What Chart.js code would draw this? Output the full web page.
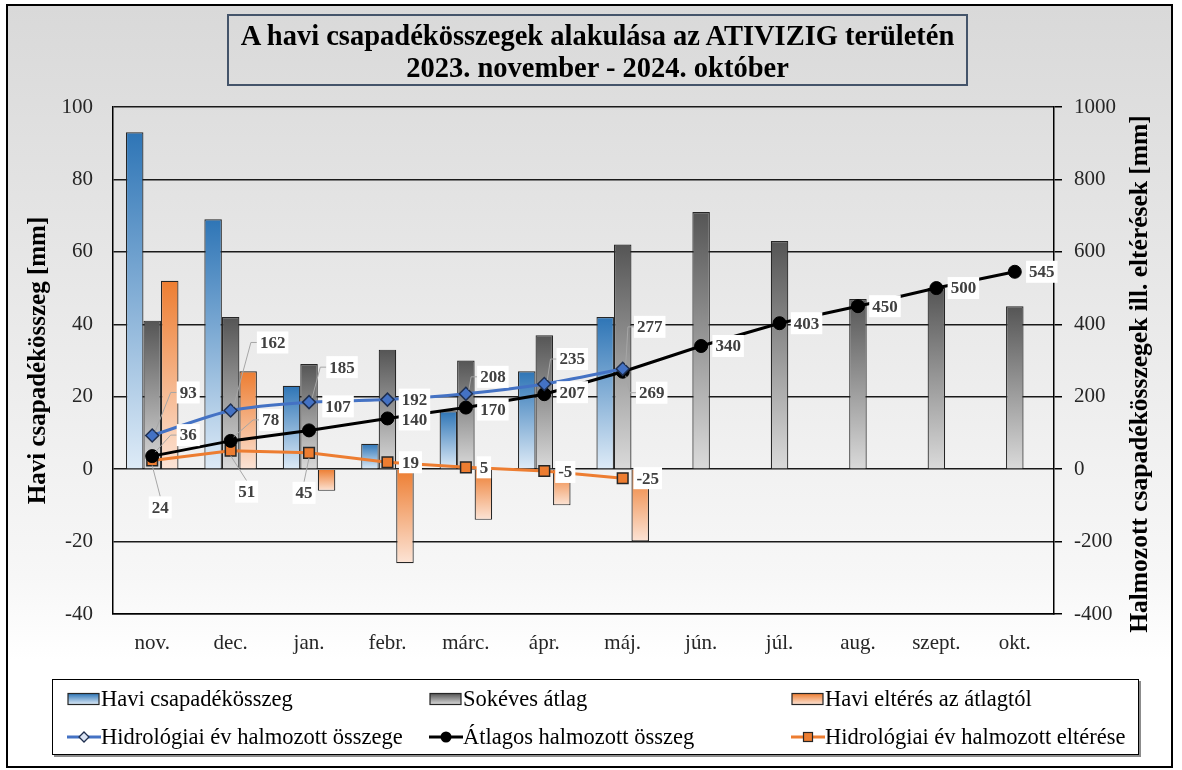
<!DOCTYPE html>
<html lang="hu">
<head>
<meta charset="utf-8">
<title>A havi csapadékösszegek alakulása az ATIVIZIG területén</title>
<script src="https://cdn.jsdelivr.net/npm/chart.js@4.4.1/dist/chart.umd.min.js"></script>
<style>
  html, body { margin: 0; padding: 0; }
  body {
    width: 1182px; height: 770px; position: relative; overflow: hidden;
    background: #fff; font-family: "Liberation Serif", "Times New Roman", serif;
  }
  #frame {
    position: absolute; left: 6px; top: 4px; width: 1167px; height: 764px;
    box-sizing: border-box; border: 2px solid #000;
    background: linear-gradient(to bottom, #d9d9d9 0%, #f7f7f7 75%, #ffffff 86%);
  }
  #chartBox { position: absolute; left: 0; top: 0; width: 1182px; height: 770px; }
  #title {
    position: absolute; left: 227px; top: 14px; width: 741px; height: 72px;
    box-sizing: border-box; border: 2px solid #44546a;
    text-align: center; font-weight: bold; font-size: 28.5px; line-height: 32px;
    padding-top: 4px; color: #000; white-space: nowrap;
  }
  #legend {
    position: absolute; left: 52px; top: 679px; width: 1087px; height: 76px;
    box-sizing: border-box; border: 1.5px solid #000; background: #fff;
    box-shadow: 2px 2px 0 #8c8c8c;
  }
  .item {
    position: absolute; display: flex; align-items: center;
    font-size: 22.5px; color: #000; white-space: nowrap; height: 26px;
  }
  .item svg { display: block; }
</style>
</head>
<body>
<div id="frame"></div>
<div id="chartBox"><canvas id="chart" width="1182" height="770"></canvas></div>
<div id="title">A havi csapadékösszegek alakulása az ATIVIZIG területén<br>2023. november - 2024. október</div>
<div id="legend"></div>
<script>
const months = ["nov.", "dec.", "jan.", "febr.", "márc.", "ápr.", "máj.", "jún.", "júl.", "aug.", "szept.", "okt."];

// havi értékek [mm] - bal tengely
const haviCsapadek = [93, 69, 23, 7, 16, 27, 42, null, null, null, null, null];
const sokevesAtlag = [41, 42, 29, 33, 30, 37, 62, 71, 63, 47, 50, 45];
const haviElteres = [52, 27, -6, -26, -14, -10, -20, null, null, null, null, null];

// halmozott értékek [mm] - jobb tengely
const hidroHalmozott = [93, 162, 185, 192, 208, 235, 277, null, null, null, null, null];
const atlagHalmozott = [36, 78, 107, 140, 170, 207, 269, 340, 403, 450, 500, 545];
const halmozottElteres = [24, 51, 45, 19, 5, -5, -25, null, null, null, null, null];

// címke eltolások a pontokhoz képest [dx, dy, vezetővonal]
const hidroLabelPos = [[36, -43, 1], [42, -68, 1], [33, -35, 1], [27, 0, 0], [27, -17, 1], [28, -25, 1], [27, -42, 1]];
const atlagLabelPos = [[36, -21, 1], [40, -21, 1], [29, -24, 0], [27, 1, 0], [27, 2, 0], [28, -2, 0], [29, 21, 1],
  [27, 0, 0], [27, 0, 0], [27, 0, 0], [27, 0, 0], [27, 0, 0]];
const elteresLabelPos = [[8, 47, 1], [16, 41, 1], [-5, 40, 1], [23, 0, 0], [18, 0, 0], [21, 1, 0], [25, 0, 0]];

const FONT = "'Liberation Serif', 'Times New Roman', serif";

function barGradient(top, bottom) {
  return (ctx) => {
    const chart = ctx.chart;
    if (!chart.chartArea || ctx.raw == null) return bottom;
    const y = chart.scales.y;
    const y1 = y.getPixelForValue(Math.max(ctx.raw, 0));
    const y2 = y.getPixelForValue(Math.min(ctx.raw, 0));
    if (Math.abs(y2 - y1) < 1) return top;
    const g = chart.ctx.createLinearGradient(0, y1, 0, y2);
    g.addColorStop(0, top);
    g.addColorStop(1, bottom);
    return g;
  };
}

const pointLabels = {
  id: "pointLabels",
  afterDatasetsDraw(chart) {
    const ctx = chart.ctx;
    const sets = [[3, hidroLabelPos], [4, atlagLabelPos], [5, elteresLabelPos]];
    ctx.save();
    ctx.font = "bold 17px " + FONT;
    ctx.textBaseline = "middle";
    ctx.textAlign = "center";
    sets.forEach(([di, pos]) => {
      const meta = chart.getDatasetMeta(di);
      const data = chart.data.datasets[di].data;
      meta.data.forEach((pt, i) => {
        if (data[i] == null || !pos[i]) return;
        const [dx, dy, lead] = pos[i];
        const txt = String(data[i]);
        const w = ctx.measureText(txt).width + 6;
        const h = 22;
        const cx = pt.x + dx, cy = pt.y + dy;
        if (lead) {
          ctx.strokeStyle = "#a6a6a6";
          ctx.lineWidth = 1;
          ctx.beginPath();
          if (dy > 25 && Math.abs(dx) < 20) {
            ctx.moveTo(pt.x, pt.y + 5);
            ctx.lineTo(cx, cy - h / 2);
          } else {
            const lx = cx - w / 2;
            ctx.moveTo(pt.x + 3, pt.y + (dy < 0 ? -4 : 4));
            ctx.lineTo(lx - 6, cy);
            ctx.lineTo(lx, cy);
          }
          ctx.stroke();
        }
        ctx.fillStyle = "#fff";
        ctx.fillRect(cx - w / 2, cy - h / 2, w, h);
        ctx.fillStyle = "#404040";
        ctx.fillText(txt, cx, cy + 1);
      });
    });
    ctx.restore();
  }
};

const rightTitle = {
  id: "rightTitle",
  afterDraw(chart) {
    const ctx = chart.ctx;
    ctx.save();
    ctx.translate(1140, 374);
    ctx.rotate(-Math.PI / 2);
    ctx.font = "bold 25.5px " + FONT;
    ctx.fillStyle = "#000";
    ctx.textAlign = "center";
    ctx.textBaseline = "middle";
    ctx.fillText("Halmozott csapadékösszegek ill. eltérések [mm]", 0, 0);
    ctx.restore();
  }
};

const chart = new Chart(document.getElementById("chart"), {
  data: {
    labels: months,
    datasets: [
      {
        type: "bar", label: "Havi csapadékösszeg", data: haviCsapadek, yAxisID: "y", order: 2,
        backgroundColor: barGradient("#2e75b6", "#deebf7"), borderColor: "#262626", borderWidth: 1.2,
        categoryPercentage: 0.67, barPercentage: 1
      },
      {
        type: "bar", label: "Sokéves átlag", data: sokevesAtlag, yAxisID: "y", order: 2,
        backgroundColor: barGradient("#555555", "#dadada"), borderColor: "#262626", borderWidth: 1.2,
        categoryPercentage: 0.67, barPercentage: 1
      },
      {
        type: "bar", label: "Havi eltérés az átlagtól", data: haviElteres, yAxisID: "y", order: 2,
        backgroundColor: barGradient("#ed7d31", "#fce4d6"), borderColor: "#262626", borderWidth: 1.2,
        categoryPercentage: 0.67, barPercentage: 1
      },
      {
        type: "line", label: "Hidrológiai év halmozott összege", data: hidroHalmozott, yAxisID: "y2", order: 0,
        borderColor: "#4472c4", borderWidth: 3, tension: 0.25,
        pointStyle: "rectRot", pointRadius: 6.5, pointBackgroundColor: "#4472c4",
        pointBorderColor: "#1f2f4f", pointBorderWidth: 1.5
      },
      {
        type: "line", label: "Átlagos halmozott összeg", data: atlagHalmozott, yAxisID: "y2", order: 1,
        borderColor: "#000", borderWidth: 3, tension: 0,
        pointStyle: "circle", pointRadius: 6.5, pointBackgroundColor: "#000",
        pointBorderColor: "#000", pointBorderWidth: 1
      },
      {
        type: "line", label: "Hidrológiai év halmozott eltérése", data: halmozottElteres, yAxisID: "y2", order: 1,
        borderColor: "#ed7d31", borderWidth: 3, tension: 0,
        pointStyle: "rect", pointRadius: 7.5, pointBackgroundColor: "#ed7d31",
        pointBorderColor: "#262626", pointBorderWidth: 1.5
      }
    ]
  },
  options: {
    responsive: false,
    animation: false,
    layout: { padding: { left: 20, right: 25, top: 107, bottom: 116 } },
    plugins: {
      legend: { display: false },
      title: { display: false },
      tooltip: { enabled: false }
    },
    scales: {
      x: {
        afterFit: (s) => { s.height = 40; },
        grid: { drawOnChartArea: false, drawTicks: false },
        border: { color: "#000", width: 1.5 },
        ticks: { color: "#262626", padding: 17, font: { family: FONT, size: 21 } }
      },
      y: {
        position: "left", min: -40, max: 100,
        afterFit: (s) => { s.width = 93; },
        grid: { color: "#1a1a1a", lineWidth: 1.5, drawTicks: false },
        border: { color: "#000", width: 1.5 },
        ticks: { stepSize: 20, color: "#262626", padding: 20, font: { family: FONT, size: 21 } },
        title: {
          display: true, text: "Havi csapadékösszeg [mm]", color: "#000",
          font: { family: FONT, size: 25, weight: "bold" }
        }
      },
      y2: {
        position: "right", min: -400, max: 1000,
        afterFit: (s) => { s.width = 103; },
        grid: { drawOnChartArea: false, drawTicks: true, tickLength: 8, color: "#000", lineWidth: 1.5 },
        border: { color: "#000", width: 1.5 },
        ticks: {
          stepSize: 200, color: "#262626", padding: 12, font: { family: FONT, size: 21 },
          callback: (v) => String(v)
        }
      }
    }
  },
  plugins: [pointLabels, rightTitle]
});

// jelmagyarázat a diagram adatsoraiból
const legendCols = [14, 376, 738];
const legendRows = [6, 44];
const barStops = [["#2e75b6", "#deebf7"], ["#555555", "#dadada"], ["#ed7d31", "#fce4d6"]];
const legendEl = document.getElementById("legend");
chart.data.datasets.forEach((ds, i) => {
  const item = document.createElement("div");
  item.className = "item";
  item.style.left = legendCols[i % 3] + "px";
  item.style.top = legendRows[Math.floor(i / 3)] + "px";
  let sym;
  if (ds.type === "bar") {
    const [a, b] = barStops[i];
    sym = `<svg width="34" height="14"><defs><linearGradient id="g${i}" x1="0" y1="0" x2="0" y2="1">
      <stop offset="0" stop-color="${a}"/><stop offset="1" stop-color="${b}"/></linearGradient></defs>
      <rect x="1" y="1.5" width="31" height="11" fill="url(#g${i})" stroke="#262626" stroke-width="1.2"/></svg>`;
  } else {
    let marker;
    if (ds.pointStyle === "rectRot") marker = `<path d="M17 2 L22 7 L17 12 L12 7 Z" fill="#dae3f3" stroke="#1f2f4f" stroke-width="1.3"/>`;
    else if (ds.pointStyle === "circle") marker = `<circle cx="17" cy="7" r="5.5" fill="#000"/>`;
    else marker = `<rect x="12.5" y="2.5" width="9" height="9" fill="#ed7d31" stroke="#262626" stroke-width="1.2"/>`;
    sym = `<svg width="34" height="14"><line x1="0" y1="7" x2="34" y2="7" stroke="${ds.borderColor}" stroke-width="3"/>${marker}</svg>`;
  }
  item.innerHTML = sym + `<span>${ds.label}</span>`;
  legendEl.appendChild(item);
});
</script>
</body>
</html>
